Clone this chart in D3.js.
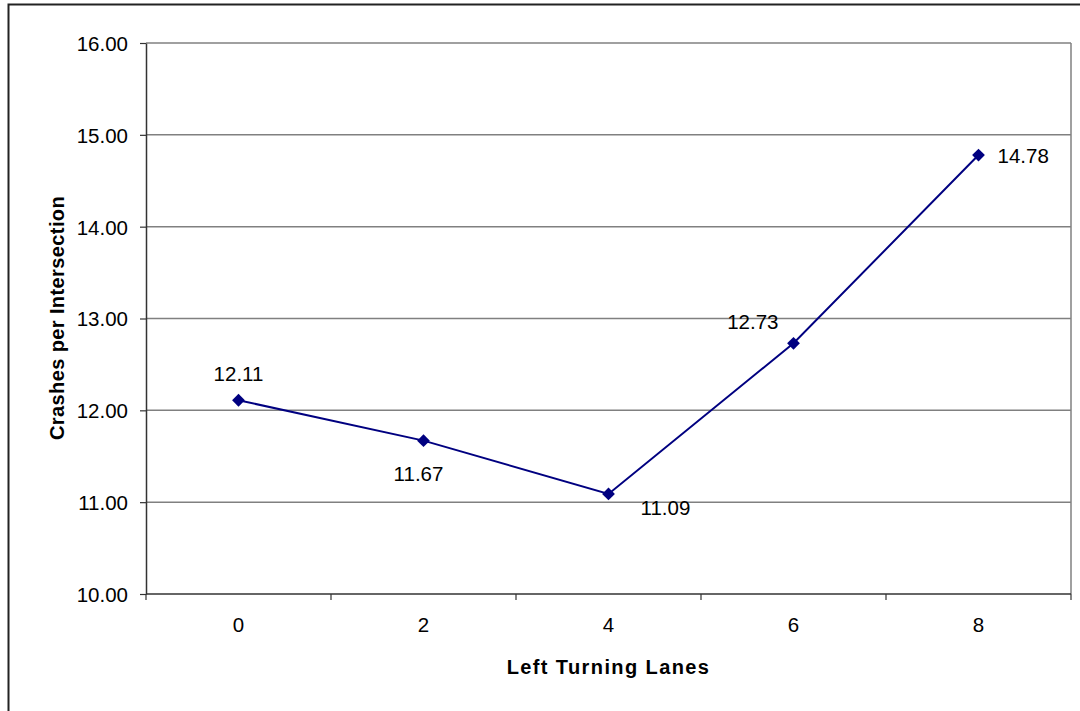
<!DOCTYPE html>
<html>
<head>
<meta charset="utf-8">
<script src="https://cdn.jsdelivr.net/npm/d3@7"></script>
<style>
  body { margin: 0; background: #fff; }
  text { font-family: Arial, "Liberation Sans", sans-serif; fill: #000; }
</style>
</head>
<body>
<div id="chart"></div>
<script>
// data
const lanes = ["0", "2", "4", "6", "8"];
const crashes = [12.11, 11.67, 11.09, 12.73, 14.78];
const yTicks = [10, 11, 12, 13, 14, 15, 16];
// where Excel put each data label
const labelPlace = ["above", "below", "belowRight", "aboveLeft", "right"];

const W = 1080, H = 711;
const margin = { left: 146, top: 43, right: 9, bottom: 117 };
const numFont = "20.5px";

const svg = d3.select("#chart").append("svg")
  .attr("width", W)
  .attr("height", H);

// outer chart frame (runs off the page on right/bottom)
svg.append("rect")
  .attr("x", 8.5).attr("y", 4.5)
  .attr("width", 1200).attr("height", 900)
  .attr("fill", "none")
  .attr("stroke", "#222")
  .attr("stroke-width", 2);

const x = d3.scaleBand()
  .domain(lanes)
  .range([margin.left, W - margin.right]);

const y = d3.scaleLinear()
  .domain([10, 16])
  .range([H - margin.bottom, margin.top]);

// gridlines
svg.append("g")
  .selectAll("line")
  .data(yTicks.slice(1))
  .enter().append("line")
  .attr("x1", margin.left).attr("x2", W - margin.right)
  .attr("y1", d => y(d)).attr("y2", d => y(d))
  .attr("stroke", "#808080")
  .attr("stroke-width", 1.5);

// right border of plot area
svg.append("line")
  .attr("x1", W - margin.right).attr("x2", W - margin.right)
  .attr("y1", margin.top).attr("y2", H - margin.bottom)
  .attr("stroke", "#808080")
  .attr("stroke-width", 1.5);

// y axis
const yAxis = svg.append("g")
  .attr("transform", `translate(${margin.left},0)`)
  .call(d3.axisLeft(y).tickValues(yTicks).tickFormat(d3.format(".2f")).tickSize(6).tickPadding(12).tickSizeOuter(0));
yAxis.select(".domain").attr("stroke", "#333").attr("stroke-width", 1.5);
yAxis.selectAll(".tick line").attr("stroke", "#333").attr("stroke-width", 1.2);
yAxis.selectAll(".tick text").style("font-size", numFont).attr("dy", "0.36em")
  .style("font-family", "Arial, 'Liberation Sans', sans-serif").attr("fill", "#000");

// x axis: labels at band centres, ticks at band edges
const xAxisG = svg.append("g")
  .attr("transform", `translate(0,${H - margin.bottom})`);
xAxisG.append("line")
  .attr("x1", margin.left).attr("x2", W - margin.right)
  .attr("stroke", "#333").attr("stroke-width", 1.5);
const edges = lanes.map(d => x(d)).concat([x(lanes[lanes.length - 1]) + x.bandwidth()]);
xAxisG.selectAll("line.tk")
  .data(edges)
  .enter().append("line")
  .attr("class", "tk")
  .attr("x1", d => d).attr("x2", d => d)
  .attr("y1", 0).attr("y2", 6)
  .attr("stroke", "#333").attr("stroke-width", 1.2);
xAxisG.selectAll("text")
  .data(lanes)
  .enter().append("text")
  .attr("x", d => x(d) + x.bandwidth() / 2)
  .attr("y", 38)
  .attr("text-anchor", "middle")
  .style("font-size", numFont)
  .text(d => d);

// axis titles
svg.append("text")
  .attr("x", (margin.left + W - margin.right) / 2)
  .attr("y", 674)
  .attr("text-anchor", "middle")
  .style("font-size", "20px")
  .style("font-weight", "bold")
  .style("letter-spacing", "1.4px")
  .text("Left Turning Lanes");

svg.append("text")
  .attr("transform", "translate(64,318) rotate(-90)")
  .attr("text-anchor", "middle")
  .style("font-size", "20px")
  .style("font-weight", "bold")
  .style("letter-spacing", "0.4px")
  .text("Crashes per Intersection");

// line + markers
const pts = lanes.map((d, i) => ({ lane: d, v: crashes[i], place: labelPlace[i] }));
const cx = d => x(d.lane) + x.bandwidth() / 2;

svg.append("path")
  .datum(pts)
  .attr("fill", "none")
  .attr("stroke", "#000080")
  .attr("stroke-width", 2)
  .attr("d", d3.line().x(cx).y(d => y(d.v)));

svg.selectAll("path.mk")
  .data(pts)
  .enter().append("path")
  .attr("class", "mk")
  .attr("transform", d => `translate(${cx(d)},${y(d.v)}) rotate(45)`)
  .attr("d", d3.symbol().type(d3.symbolSquare).size(82))
  .attr("fill", "#000080");

// data labels
const offsets = {
  above: { dx: 0, dy: -19, anchor: "middle" },
  below: { dx: -5, dy: 40, anchor: "middle" },
  belowRight: { dx: 32, dy: 21, anchor: "start" },
  aboveLeft: { dx: -15, dy: -14, anchor: "end" },
  right: { dx: 19, dy: 8, anchor: "start" }
};

svg.selectAll("text.lbl")
  .data(pts)
  .enter().append("text")
  .attr("class", "lbl")
  .attr("x", d => cx(d) + offsets[d.place].dx)
  .attr("y", d => y(d.v) + offsets[d.place].dy)
  .attr("text-anchor", d => offsets[d.place].anchor)
  .style("font-size", numFont)
  .text(d => d3.format(".2f")(d.v));
</script>
</body>
</html>
